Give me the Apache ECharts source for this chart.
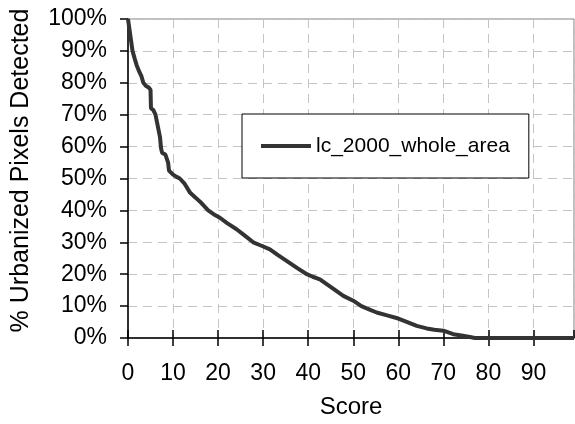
<!DOCTYPE html>
<html>
<head>
<meta charset="utf-8">
<script src="https://cdn.jsdelivr.net/npm/echarts@6/dist/echarts.min.js"></script>
<style>html,body{margin:0;padding:0;background:#fff;}#c{width:575px;height:424px;}</style>
</head>
<body>
<div id="c"></div>
<script>
var seriesName = 'lc_2000_whole_area';
var scores = [0, 0.3, 0.6, 1, 1.5, 1.9, 2.5, 3, 3.4, 4, 4.6, 5.0, 5.1, 5.6, 6.1, 6.6, 7.1, 7.3, 7.4, 7.6, 8.3, 8.9, 9.1, 9.4, 10, 10.8, 11.5, 12.5, 13.8, 15, 16.3, 17.8, 19, 20.4, 22, 24.1, 26, 27.8, 29.5, 31.5, 33.3, 35.2, 37.5, 39.7, 41, 42.6, 44.1, 46, 47.8, 50, 51.8, 53.5, 55.2, 57.5, 60, 62, 64.1, 66.3, 68, 70, 72.2, 74, 75.9, 77, 99];
var pcts = [100, 97, 94, 90, 87.5, 85.6, 83.5, 82, 80, 79, 78.5, 77.8, 72, 71.5, 70, 66.5, 63, 60, 59, 58, 57.5, 55, 52.5, 52, 51.2, 50.5, 50, 48.5, 45.5, 44, 42.3, 40, 38.8, 37.7, 36, 34.1, 32, 30, 29, 27.8, 26, 24.2, 22, 20, 19.2, 18.4, 16.9, 15, 13.2, 11.7, 10, 9, 8, 7.1, 6.1, 5, 3.8, 3, 2.6, 2.3, 1.2, 0.8, 0.3, 0, 0];
var xTitle = 'Score';
var yTitle = '% Urbanized Pixels Detected';

var data = scores.map(function (s, i) { return [s, pcts[i]]; });
var font = 'Liberation Sans, Arial, sans-serif';
var chart = echarts.init(document.getElementById('c'), null, {renderer: 'canvas'});
chart.setOption({
  animation: false,
  backgroundColor: '#fff',
  grid: {left: 128, right: 1, top: 19, bottom: 86, show: true, borderColor: '#808080', borderWidth: 1, backgroundColor: 'transparent'},
  legend: {
    left: 242, top: 114,
    padding: [21, 19, 21, 19],
    backgroundColor: '#fff',
    borderColor: '#000', borderWidth: 1, borderRadius: 0,
    icon: 'rect',
    itemWidth: 50, itemHeight: 4, itemGap: 5,
    textStyle: {fontFamily: font, fontSize: 21, color: '#000', lineHeight: 22},
    data: [{name: seriesName}]
  },
  xAxis: [{
    type: 'value', min: 0, max: 99, interval: 10,
    name: xTitle, nameLocation: 'middle', nameGap: 57,
    nameTextStyle: {fontFamily: font, fontSize: 24, color: '#000'},
    axisLine: {show: true, lineStyle: {color: '#000', width: 1.5}},
    axisTick: {show: true, length: 8, lineStyle: {color: '#000', width: 1.5}},
    axisLabel: {fontFamily: font, fontSize: 23, color: '#000', margin: 24, showMaxLabel: false},
    splitLine: {show: true, lineStyle: {color: '#c4c4c4', type: [9, 6], width: 1}}
  }, {
    type: 'value', min: 0, max: 99, interval: 10, position: 'bottom',
    axisLine: {show: false},
    axisTick: {show: true, inside: true, length: 8, lineStyle: {color: '#000', width: 1.5}},
    axisLabel: {show: false},
    splitLine: {show: false}
  }],
  yAxis: {
    type: 'value', min: 0, max: 100, interval: 10,
    name: yTitle, nameLocation: 'middle', nameGap: 94, nameRotate: 90,
    nameTextStyle: {fontFamily: font, fontSize: 25, color: '#000', padding: [0, 0, 0, 16]},
    axisLine: {show: true, lineStyle: {color: '#000', width: 1.5}},
    axisTick: {show: true, length: 8, lineStyle: {color: '#000', width: 1.5}},
    axisLabel: {fontFamily: font, fontSize: 23, color: '#000', margin: 21, formatter: '{value}%'},
    splitLine: {show: true, lineStyle: {color: '#c4c4c4', type: [9, 6], width: 1}}
  },
  series: [{
    name: seriesName, type: 'line', xAxisIndex: 0,
    data: data, symbol: 'none', showSymbol: false,
    lineStyle: {color: '#333333', width: 4},
    itemStyle: {color: '#333333'},
    z: 5
  }]
});
</script>
</body>
</html>
